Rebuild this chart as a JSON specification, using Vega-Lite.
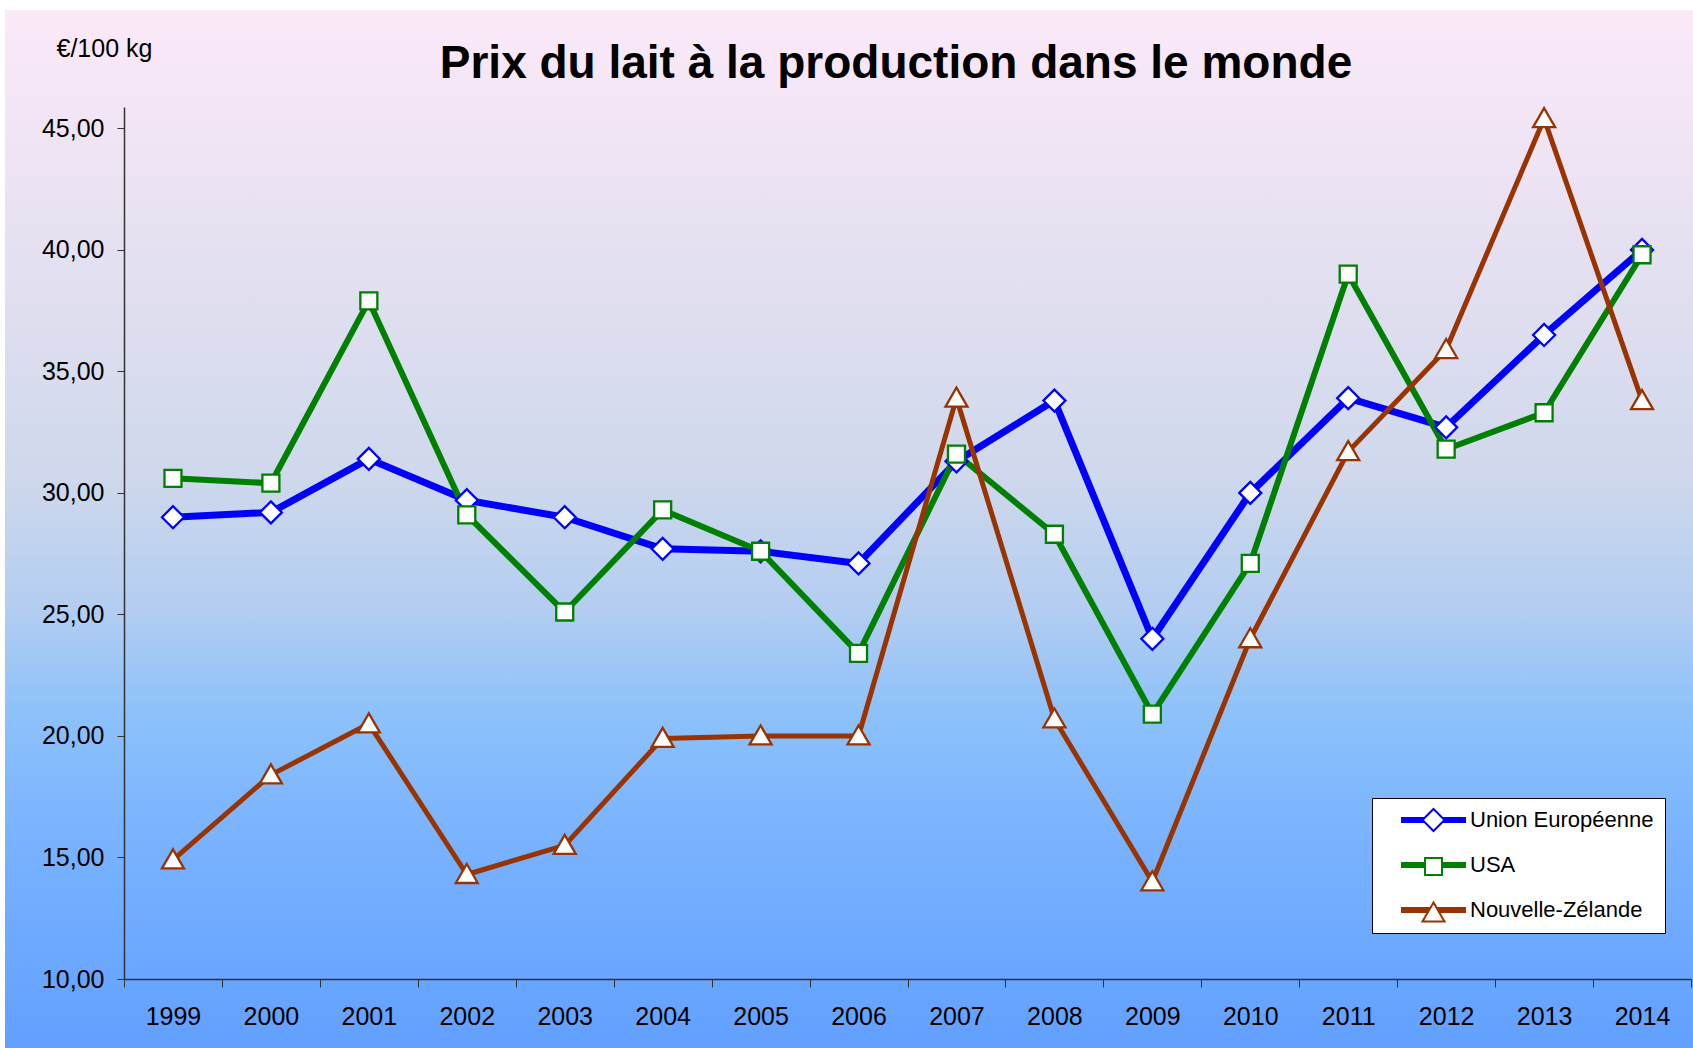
{
  "$schema": "https://vega.github.io/schema/vega-lite/v6.json",
  "width": 1688,
  "height": 1038,
  "autosize": "none",
  "padding": {"left": 5, "top": 10, "right": 0, "bottom": 0},
  "background": "white",
  "config": {
    "view": {
      "stroke": null,
      "fill": {
        "gradient": "linear", "x1": 0, "y1": 0, "x2": 0, "y2": 1,
        "stops": [
          {"offset": 0, "color": "#FCE9F8"},
          {"offset": 0.25, "color": "#E3E0F1"},
          {"offset": 0.45, "color": "#CFD8EC"},
          {"offset": 0.58, "color": "#B2CDF1"},
          {"offset": 0.68, "color": "#8CC1FB"},
          {"offset": 0.82, "color": "#76B0FF"},
          {"offset": 1, "color": "#62A0FF"}
        ]
      }
    },
    "font": "Liberation Sans"
  },
  "title": {
    "text": "Prix du lait à la production dans le monde",
    "anchor": "middle",
    "frame": "group",
    "orient": "top",
    "offset": -114,
    "baseline": "alphabetic",
    "dx": 47,
    "font": "Liberation Sans",
    "fontSize": 46,
    "fontWeight": "bold",
    "color": "black"
  },
  "data": {
    "values": [
      {"annee": "1999", "serie": "Union Européenne", "prix": 29.0},
      {"annee": "2000", "serie": "Union Européenne", "prix": 29.2},
      {"annee": "2001", "serie": "Union Européenne", "prix": 31.4},
      {"annee": "2002", "serie": "Union Européenne", "prix": 29.7},
      {"annee": "2003", "serie": "Union Européenne", "prix": 29.0},
      {"annee": "2004", "serie": "Union Européenne", "prix": 27.7},
      {"annee": "2005", "serie": "Union Européenne", "prix": 27.6},
      {"annee": "2006", "serie": "Union Européenne", "prix": 27.1},
      {"annee": "2007", "serie": "Union Européenne", "prix": 31.3},
      {"annee": "2008", "serie": "Union Européenne", "prix": 33.8},
      {"annee": "2009", "serie": "Union Européenne", "prix": 24.0},
      {"annee": "2010", "serie": "Union Européenne", "prix": 30.0},
      {"annee": "2011", "serie": "Union Européenne", "prix": 33.9},
      {"annee": "2012", "serie": "Union Européenne", "prix": 32.7},
      {"annee": "2013", "serie": "Union Européenne", "prix": 36.5},
      {"annee": "2014", "serie": "Union Européenne", "prix": 40.0},
      {"annee": "1999", "serie": "USA", "prix": 30.6},
      {"annee": "2000", "serie": "USA", "prix": 30.4},
      {"annee": "2001", "serie": "USA", "prix": 37.9},
      {"annee": "2002", "serie": "USA", "prix": 29.1},
      {"annee": "2003", "serie": "USA", "prix": 25.1},
      {"annee": "2004", "serie": "USA", "prix": 29.3},
      {"annee": "2005", "serie": "USA", "prix": 27.6},
      {"annee": "2006", "serie": "USA", "prix": 23.4},
      {"annee": "2007", "serie": "USA", "prix": 31.6},
      {"annee": "2008", "serie": "USA", "prix": 28.3},
      {"annee": "2009", "serie": "USA", "prix": 20.9},
      {"annee": "2010", "serie": "USA", "prix": 27.1},
      {"annee": "2011", "serie": "USA", "prix": 39.0},
      {"annee": "2012", "serie": "USA", "prix": 31.8},
      {"annee": "2013", "serie": "USA", "prix": 33.3},
      {"annee": "2014", "serie": "USA", "prix": 39.8},
      {"annee": "1999", "serie": "Nouvelle-Zélande", "prix": 14.9},
      {"annee": "2000", "serie": "Nouvelle-Zélande", "prix": 18.4},
      {"annee": "2001", "serie": "Nouvelle-Zélande", "prix": 20.5},
      {"annee": "2002", "serie": "Nouvelle-Zélande", "prix": 14.3},
      {"annee": "2003", "serie": "Nouvelle-Zélande", "prix": 15.5},
      {"annee": "2004", "serie": "Nouvelle-Zélande", "prix": 19.9},
      {"annee": "2005", "serie": "Nouvelle-Zélande", "prix": 20.0},
      {"annee": "2006", "serie": "Nouvelle-Zélande", "prix": 20.0},
      {"annee": "2007", "serie": "Nouvelle-Zélande", "prix": 33.9},
      {"annee": "2008", "serie": "Nouvelle-Zélande", "prix": 20.7},
      {"annee": "2009", "serie": "Nouvelle-Zélande", "prix": 14.0},
      {"annee": "2010", "serie": "Nouvelle-Zélande", "prix": 24.0},
      {"annee": "2011", "serie": "Nouvelle-Zélande", "prix": 31.7},
      {"annee": "2012", "serie": "Nouvelle-Zélande", "prix": 35.9},
      {"annee": "2013", "serie": "Nouvelle-Zélande", "prix": 45.4},
      {"annee": "2014", "serie": "Nouvelle-Zélande", "prix": 33.8}
    ]
  },
  "encoding": {
    "x": {
      "field": "annee",
      "type": "ordinal",
      "scale": {"type": "band", "range": [119, 1686], "paddingInner": 0, "paddingOuter": 0},
      "axis": {
        "orient": "bottom",
        "offset": -69,
        "tickBand": "extent",
        "tickSize": 8,
        "tickColor": "#333333",
        "domainColor": "#333333",
        "domainWidth": 1.5,
        "labelPadding": 17,
        "labelAngle": 0,
        "labelFont": "Liberation Sans",
        "labelFontSize": 25,
        "labelColor": "black",
        "grid": false,
        "title": null
      }
    },
    "y": {
      "field": "prix",
      "type": "quantitative",
      "scale": {"domain": [10, 45.88], "range": [969, 97], "nice": false, "zero": false},
      "axis": {
        "orient": "left",
        "offset": -119,
        "values": [10, 15, 20, 25, 30, 35, 40, 45],
        "labelExpr": "replace(format(datum.value, '.2f'), '.', ',')",
        "labelFont": "Liberation Sans",
        "labelFontSize": 25,
        "labelColor": "black",
        "labelPadding": 13,
        "tickSize": 7,
        "tickColor": "#333333",
        "domainColor": "#333333",
        "domainWidth": 1.5,
        "grid": false,
        "title": "€/100 kg",
        "titleAngle": 0,
        "titleX": -68,
        "titleY": 38,
        "titleAlign": "left",
        "titleBaseline": "middle",
        "titleFont": "Liberation Sans",
        "titleFontSize": 25,
        "titleFontWeight": "normal",
        "titleColor": "black"
      }
    }
  },
  "layer": [
    {
      "mark": {"type": "line", "strokeJoin": "round", "strokeCap": "round"},
      "encoding": {
        "color": {
          "field": "serie",
          "type": "nominal",
          "sort": ["Union Européenne", "USA", "Nouvelle-Zélande"],
          "scale": {"range": ["#0000FF", "#008000", "#993300"]},
          "legend": {
            "orient": "none",
            "legendX": 1367,
            "legendY": 788,
            "title": null,
            "symbolType": "M-4.06,0H4.06",
            "symbolSize": 256,
            "symbolStrokeWidth": 6,
            "symbolOffset": 39.5,
            "labelOffset": 25.5,
            "labelFont": "Liberation Sans",
            "labelFontSize": 22,
            "labelColor": "black",
            "labelLimit": 400,
            "padding": 11,
            "rowPadding": 21,
            "fillColor": "white",
            "strokeColor": "black"
          }
        },
        "strokeWidth": {
          "field": "serie",
          "type": "nominal",
          "sort": ["Union Européenne", "USA", "Nouvelle-Zélande"],
          "scale": {"range": [7, 5, 5.5]},
          "legend": null
        }
      }
    },
    {
      "mark": {"type": "point", "filled": true, "fill": "white", "strokeWidth": 2.3, "size": 400, "opacity": 1},
      "encoding": {
        "fill": {"value": "white"},
        "stroke": {
          "field": "serie",
          "type": "nominal",
          "scale": {"domain": ["Union Européenne", "USA", "Nouvelle-Zélande"], "range": ["#0000FF", "#008000", "#993300"]},
          "legend": {
            "orient": "none",
            "legendX": 1367,
            "legendY": 788,
            "title": null,
            "symbolSize": 400,
            "symbolOffset": 39.5,
            "symbolFillColor": "white",
            "symbolStrokeWidth": 2,
            "labelOpacity": 0,
            "labelOffset": 25.5,
            "labelFont": "Liberation Sans",
            "labelFontSize": 22,
            "labelLimit": 400,
            "padding": 11,
            "rowPadding": 18.5
          }
        },
        "shape": {
          "field": "serie",
          "type": "nominal",
          "scale": {
            "domain": ["Union Européenne", "USA", "Nouvelle-Zélande"],
            "range": ["M-1.1,0L0,-1.1L1.1,0L0,1.1Z", "M-0.85,-0.85H0.85V0.85H-0.85Z", "M0,-1.05L1.1,0.85L-1.1,0.85Z"]
          }
        }
      }
    }
  ]
}
